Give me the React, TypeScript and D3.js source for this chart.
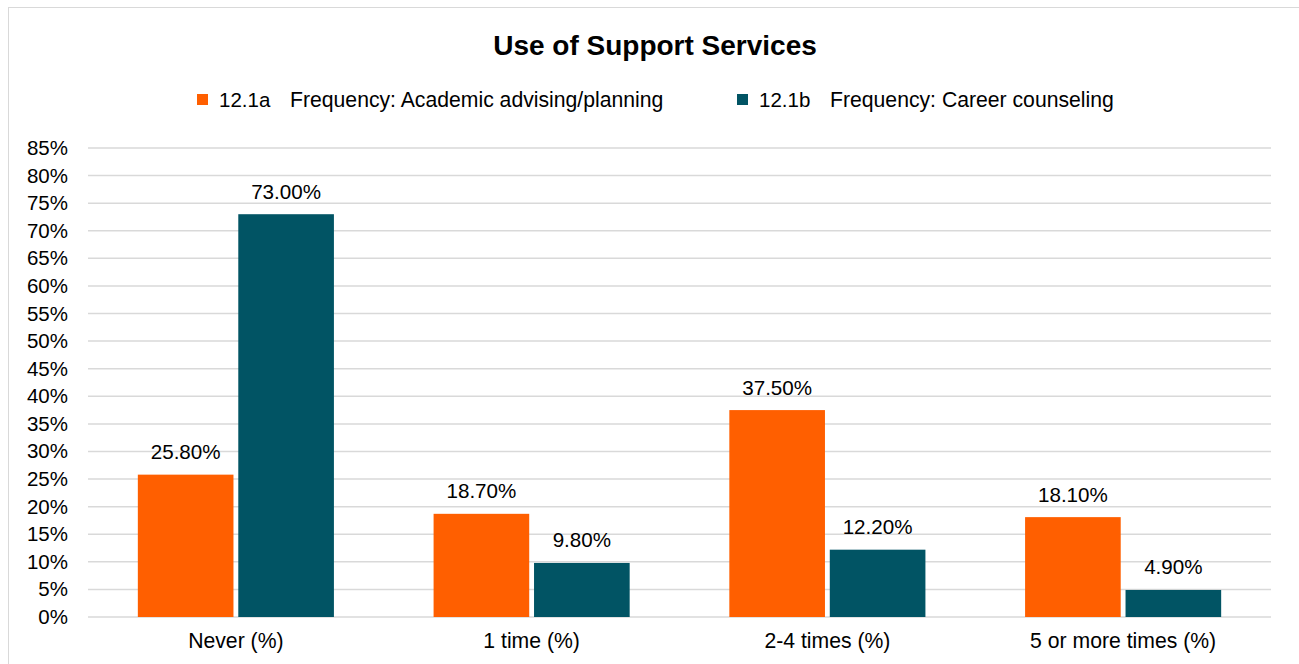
import React from "react";
import * as d3 from "d3";

const categories = ["Never (%)", "1 time (%)", "2-4 times (%)", "5 or more times (%)"];
const seriesCodes = ["12.1a", "12.1b"];
const seriesNames = ["Frequency: Academic advising/planning", "Frequency: Career counseling"];
const academicValues = [25.8, 18.7, 37.5, 18.1];
const careerValues = [73.0, 9.8, 12.2, 4.9];
const yTicks = [0, 5, 10, 15, 20, 25, 30, 35, 40, 45, 50, 55, 60, 65, 70, 75, 80, 85];
const colors = ["#FF5F00", "#015464"];

const W = 1299;
const H = 664;
const FONT = "'Liberation Sans', Arial, sans-serif";

export default function App() {
  const plotLeft = 88;
  const plotRight = 1271;
  const y = d3.scaleLinear().domain([0, 85]).range([617, 148]);
  const x0 = d3.scaleBand<string>().domain(categories).range([plotLeft, plotRight]).padding(0);
  const groupW = x0.bandwidth() * 0.663;
  const x1 = d3.scaleBand<number>().domain([0, 1]).range([0, groupW]).paddingInner(0.048);
  const series = [academicValues, careerValues];
  const legendX = [197, 737];

  return (
    <svg
      width={W}
      height={H}
      style={{ position: "absolute", left: 0, top: 0, background: "#fff" }}
      fontFamily={FONT}
    >
      <rect x={8.5} y={7.5} width={W + 10} height={H + 10} fill="#fff" stroke="#d9d9d9" strokeWidth={1} />
      <text x={655} y={55} textAnchor="middle" fontSize={28} fontWeight="bold" fill="#000">
        Use of Support Services
      </text>
      {/* legend */}
      {legendX.map((lx, i) => (
        <g key={i}>
          <rect x={lx} y={94} width={11} height={11} fill={colors[i]} />
          <text x={lx + 22} y={107} fontSize={20.5} fill="#000">
            {seriesCodes[i]}
          </text>
          <text x={lx + 22 + 71} y={107} fontSize={21.2} fill="#000">
            {seriesNames[i]}
          </text>
        </g>
      ))}
      {/* grid + y ticks */}
      {yTicks.map((t) => (
        <g key={t}>
          <line x1={plotLeft} x2={plotRight} y1={y(t)} y2={y(t)} stroke="#d9d9d9" strokeWidth={1.5} />
          <text x={68} y={y(t) + 7} textAnchor="end" fontSize={20.5} fill="#000">
            {t}%
          </text>
        </g>
      ))}
      {/* bars */}
      {categories.map((c, ci) => {
        const gx = (x0(c) as number) + (x0.bandwidth() - groupW) / 2;
        return (
          <g key={c}>
            {series.map((vals, si) => {
              const bx = gx + (x1(si) as number);
              const v = vals[ci];
              return (
                <g key={si}>
                  <rect x={bx} y={y(v)} width={x1.bandwidth()} height={y(0) - y(v)} fill={colors[si]} />
                  <text
                    x={bx + x1.bandwidth() / 2}
                    y={y(v) - 15.5}
                    textAnchor="middle"
                    fontSize={20.6}
                    fill="#000"
                  >
                    {v.toFixed(2)}%
                  </text>
                </g>
              );
            })}
            <text x={(x0(c) as number) + x0.bandwidth() / 2} y={648} textAnchor="middle" fontSize={21.2} fill="#000">
              {c}
            </text>
          </g>
        );
      })}
    </svg>
  );
}
